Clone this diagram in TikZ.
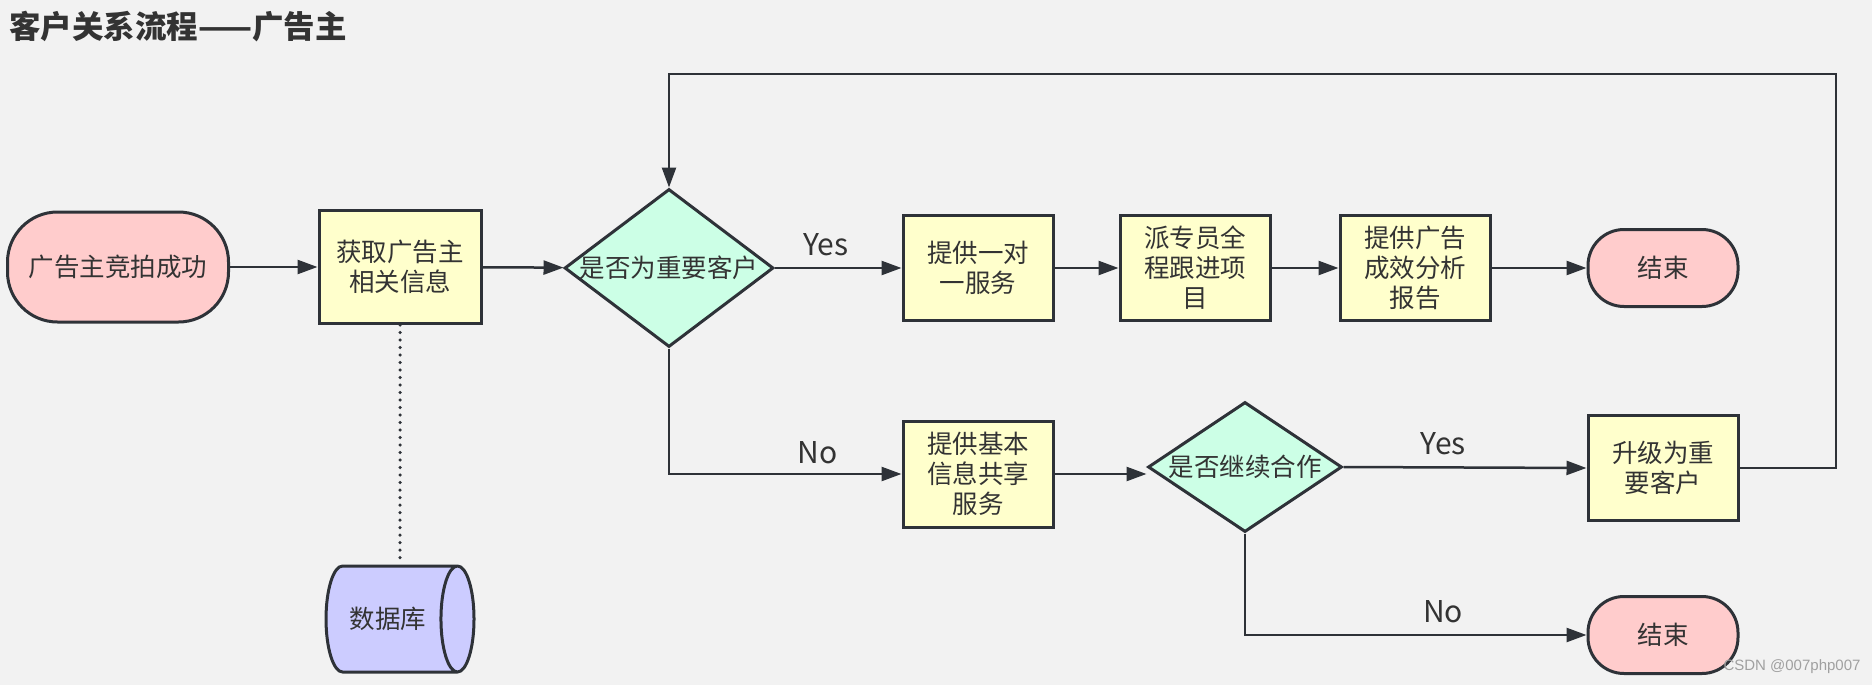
\documentclass[tikz,border=0pt]{standalone}
\usepackage{fontspec}
\setmainfont{Noto Sans CJK SC}
\newfontfamily\wmfont{Liberation Sans}
\usetikzlibrary{arrows.meta,shapes.geometric}
\definecolor{bgc}{HTML}{F2F2F2}
\definecolor{lc}{HTML}{2E3238}
\definecolor{tc}{HTML}{333333}
\definecolor{pillc}{HTML}{FFCCCC}
\definecolor{boxc}{HTML}{FFFFCC}
\definecolor{decc}{HTML}{CCFFE6}
\definecolor{dbc}{HTML}{CCCCFF}
\definecolor{wmc}{HTML}{A0A0A0}
\begin{document}
\begin{tikzpicture}[x=1pt,y=-1pt,
  base/.style={draw=lc, line width=3pt, text=tc, font=\fontsize{25.5}{30}\selectfont, align=center, inner sep=0pt},
  pill/.style={base, fill=pillc, rectangle},
  stepbox/.style={base, fill=boxc, rectangle, minimum width=150pt, minimum height=105pt},
  dec/.style={base, fill=decc, diamond},
  conn/.style={draw=lc, line width=2.5pt, -{Triangle[length=20pt,width=14pt]}},
  dotline/.style={draw=lc, line width=3.5pt, line cap=round, dash pattern=on 0pt off 7.5pt},
  lbl/.style={text=tc, font=\fontsize{30}{34}\selectfont, inner sep=0pt},
  dlbl/.style={text=tc, font=\fontsize{25.5}{30}\selectfont, inner sep=0pt}]
\fill[bgc] (0,0) rectangle (1872,685);
\useasboundingbox (0,0) rectangle (1872,685);
% title
\node[anchor=west, text=tc, font=\fontsize{31.5}{34}\selectfont\bfseries, inner sep=0pt] (title) at (9,27) {客户关系流程——广告主};
% nodes
\node[pill, rounded corners=50pt, minimum width=221pt, minimum height=110pt] (start) at (118,267) {广告主竞拍成功};
\node[stepbox, minimum width=162pt, minimum height=113pt] (info) at (400,267) {获取广告主\\相关信息};
\node[dec, minimum width=209pt, minimum height=158pt, label={[dlbl]center:是否为重要客户}] (imp) at (669,268) {};
\node[stepbox] (one) at (978,268) {提供一对\\一服务};
\node[stepbox] (pai) at (1195,268) {派专员全\\程跟进项\\目};
\node[stepbox] (rep) at (1415,268) {提供广告\\成效分析\\报告};
\node[pill, rounded corners=36pt, minimum width=150pt, minimum height=77pt] (end1) at (1663,268) {结束};
\node[stepbox, minimum height=106pt] (basic) at (978,474) {提供基本\\信息共享\\服务};
\node[dec, minimum width=194pt, minimum height=130pt, label={[dlbl]center:是否继续合作}] (cont) at (1245,467) {};
\node[stepbox] (upg) at (1663,468) {升级为重\\要客户};
\node[pill, rounded corners=36pt, minimum width=150pt, minimum height=77pt] (end2) at (1663,635) {结束};
\node[base, cylinder, shape border rotate=0, aspect=1.4, fill=dbc, minimum width=106pt, minimum height=148pt] (db) at (391,619) {数据库\hspace*{6pt}};
\coordinate (loopR) at (1836,74);
% connectors
\draw[conn] (start) -- (info);
\draw[conn] (info) -- (imp);
\draw[conn] (imp.east) -- node[lbl, above=11pt, pos=0.4] {Yes} (one.west);
\draw[conn] (one) -- (pai);
\draw[conn] (pai) -- (rep);
\draw[conn] (rep) -- (end1);
\draw[conn] (imp.south) |- node[lbl, above=9pt, pos=0.82] {No} (basic.west);
\draw[conn] (basic.east) -- (cont.west |- basic.east);
\draw[conn] (cont.east) -- node[lbl, above=11pt, pos=0.41] {Yes} (upg.west);
\draw[conn] (cont.south) |- node[lbl, above=11pt, pos=0.79] {No} (end2.west);
\draw[conn] (upg.east) -| (loopR) -| (imp.north);
\draw[dotline] (info.south) -- (info.south |- db.north);
% watermark
\node[text=wmc, font=\wmfont\fontsize{15}{18}\selectfont, inner sep=0pt] (wm) at (1792,667) {CSDN @007php007};
\end{tikzpicture}
\end{document}
